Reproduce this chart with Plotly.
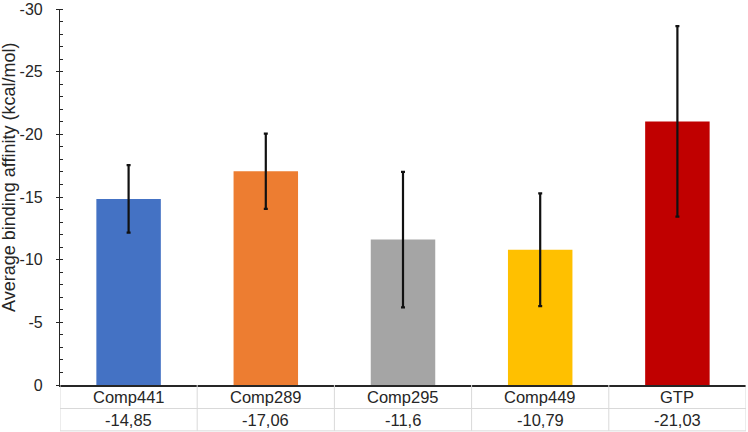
import plotly.graph_objects as go

# Data
compounds = ["Comp441", "Comp289", "Comp295", "Comp449", "GTP"]
affinity = [-14.85, -17.06, -11.6, -10.79, -21.03]
errors = [2.7, 3.0, 5.4, 4.5, 7.6]
bar_colors = ["#4472C4", "#ED7D31", "#A5A5A5", "#FFC000", "#C00000"]
y_ticks = [0, -5, -10, -15, -20, -25, -30]

x_pos = list(range(len(compounds)))
font_family = "Liberation Sans, Arial, sans-serif"
text_color = "#262626"

fig = go.Figure()

fig.add_trace(
    go.Bar(
        x=x_pos,
        y=affinity,
        width=0.47,
        marker=dict(color=bar_colors, line=dict(width=0)),
        error_y=dict(
            type="data",
            array=errors,
            visible=True,
            color="#111111",
            thickness=2.2,
            width=2,
        ),
        hoverinfo="skip",
    )
)

# Data-table rows under the x axis: category names and values
row1_y = -0.032
row2_y = -0.093
annotations = []
for i, (name, val) in enumerate(zip(compounds, affinity)):
    annotations.append(dict(
        x=i, y=row1_y, xref="x", yref="paper", text=name, showarrow=False,
        xanchor="center", yanchor="middle",
        font=dict(size=16.5, color=text_color, family=font_family),
    ))
    annotations.append(dict(
        x=i, y=row2_y, xref="x", yref="paper",
        text=f"{val:g}".replace(".", ","), showarrow=False,
        xanchor="center", yanchor="middle",
        font=dict(size=16.5, color=text_color, family=font_family),
    ))

# y axis title, placed as a rotated annotation
annotations.append(dict(
    x=-0.0745, y=0.553, xref="paper", yref="paper",
    text="Average binding affinity (kcal/mol)", textangle=-90, showarrow=False,
    xanchor="center", yanchor="middle",
    font=dict(size=18, color=text_color, family=font_family),
))

shapes = []
# vertical dividers of the table
for i in range(len(compounds) + 1):
    shapes.append(dict(
        type="line", xref="x", yref="paper", x0=i - 0.5, x1=i - 0.5,
        y0=0, y1=-0.122, line=dict(color="#D9D9D9", width=1),
    ))
# horizontal lines of the table
for yy in [-0.0625, -0.122]:
    shapes.append(dict(
        type="line", xref="paper", yref="paper", x0=0, x1=1,
        y0=yy, y1=yy, line=dict(color="#D9D9D9", width=1),
    ))

fig.update_layout(
    width=748,
    height=432,
    margin=dict(l=60, r=2, t=9, b=47),
    plot_bgcolor="white",
    paper_bgcolor="white",
    showlegend=False,
    font=dict(family=font_family, color=text_color),
    annotations=annotations,
    shapes=shapes,
)

fig.update_xaxes(
    range=[-0.5, len(compounds) - 0.5],
    showticklabels=False,
    showgrid=False,
    zeroline=False,
    showline=True,
    linecolor="#262626",
    linewidth=1.5,
    ticks="",
)

fig.update_yaxes(
    range=[0, -30],
    tickvals=y_ticks,
    ticktext=[str(t) for t in y_ticks],
    tickfont=dict(size=16, color=text_color),
    ticks="outside",
    ticklen=3,
    tickwidth=1.2,
    tickcolor="#262626",
    ticklabelstandoff=10,
    minor=dict(dtick=1, ticks="inside", ticklen=3, tickcolor="#262626", showgrid=False),
    showgrid=False,
    zeroline=False,
    showline=True,
    linecolor="#262626",
    linewidth=1.2,
    automargin=False,
)

fig.write_html(
    "out.html",
    config={"displayModeBar": False},
    post_script="document.body.style.margin='0';",
)
